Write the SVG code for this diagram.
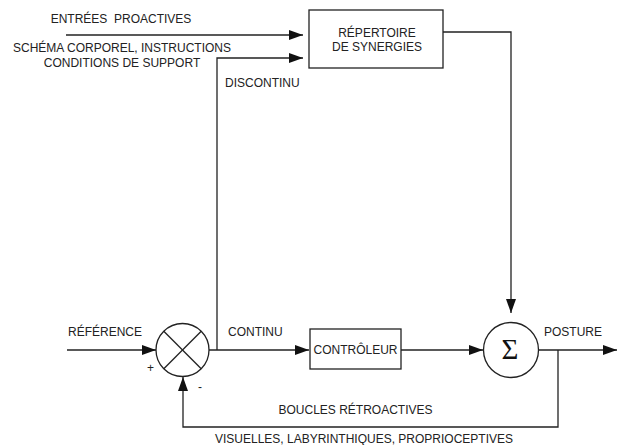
<svg xmlns="http://www.w3.org/2000/svg" width="618" height="445" viewBox="0 0 618 445">
<defs>
<marker id="ah" viewBox="0 0 14 10" refX="14" refY="5" markerWidth="14" markerHeight="10" markerUnits="userSpaceOnUse" orient="auto">
<path d="M0,0 L14,5 L0,10 Z" fill="#111"/>
</marker>
<style>
.ln{fill:none;stroke:#222;stroke-width:1.3}
.bx{fill:#fff;stroke:#222;stroke-width:1.3}
.t{font-family:"Liberation Sans",Arial,sans-serif;font-size:12px;fill:#222}
.m{text-anchor:middle}
</style>
</defs>
<rect width="618" height="445" fill="#fff"/>
<g id="connectors">
<line class="ln" x1="66" y1="35" x2="303" y2="35" marker-end="url(#ah)"/>
<polyline class="ln" points="217,350 217,58 303,58" marker-end="url(#ah)"/>
<polyline class="ln" points="443,32 511,32 511,313" marker-end="url(#ah)"/>
<line class="ln" x1="67" y1="350" x2="156" y2="350" marker-end="url(#ah)"/>
<line class="ln" x1="209" y1="350" x2="309" y2="350" marker-end="url(#ah)"/>
<line class="ln" x1="401" y1="350" x2="483" y2="350" marker-end="url(#ah)"/>
<line class="ln" x1="539" y1="350" x2="617" y2="350" marker-end="url(#ah)"/>
<polyline class="ln" points="558,350 558,427 183,427 183,377" marker-end="url(#ah)"/>
</g>
<g id="repertoire">
<rect class="bx" x="309" y="10" width="134" height="58"/>
<text class="t m" x="377" y="37">RÉPERTOIRE</text>
<text class="t m" x="377" y="51">DE SYNERGIES</text>
</g>
<g id="comparateur">
<circle class="bx" cx="182.5" cy="350" r="26.5"/>
<line class="ln" x1="163.8" y1="331.3" x2="201.2" y2="368.7"/>
<line class="ln" x1="201.2" y1="331.3" x2="163.8" y2="368.7"/>
</g>
<g id="controleur">
<rect class="bx" x="310" y="329" width="91" height="40"/>
<text class="t m" x="355.5" y="354">CONTRÔLEUR</text>
</g>
<g id="somme">
<circle class="bx" cx="511" cy="350" r="27.5"/>
<text x="510" y="359" text-anchor="middle" font-family="'Liberation Serif',serif" font-size="29" fill="#111">Σ</text>
</g>
<g id="labels">
<text class="t m" x="121" y="23" xml:space="preserve">ENTRÉES  PROACTIVES</text>
<text class="t m" x="122" y="52">SCHÉMA CORPOREL, INSTRUCTIONS</text>
<text class="t m" x="122" y="67">CONDITIONS DE SUPPORT</text>
<text class="t" x="225" y="87">DISCONTINU</text>
<text class="t" x="68" y="336">RÉFÉRENCE</text>
<text class="t" x="228" y="336">CONTINU</text>
<text class="t" x="544" y="336">POSTURE</text>
<text class="t" x="147" y="372">+</text>
<text class="t" x="198" y="391">-</text>
<text class="t m" x="355.5" y="414">BOUCLES RÉTROACTIVES</text>
<text class="t m" x="364" y="443">VISUELLES, LABYRINTHIQUES, PROPRIOCEPTIVES</text>
</g>
</svg>
